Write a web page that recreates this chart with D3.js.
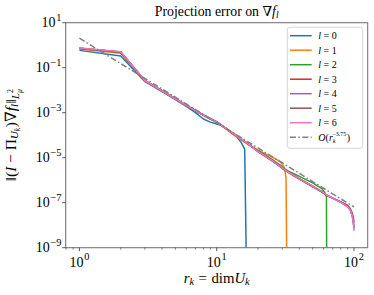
<!DOCTYPE html>
<html>
<head>
<meta charset="utf-8">
<script src="https://cdn.jsdelivr.net/npm/d3@7"></script>
<style>
  body { margin: 0; background: #fff; }
  svg { display: block; }
  text { font-family: "Liberation Serif", "DejaVu Serif", serif; fill: #000; }
</style>
</head>
<body>
<svg></svg>
<script>
const size = { w: 374, h: 295 };
const plot = { l: 65.7, r: 367.7, t: 22.7, b: 247.7 };

// r_k = dim U_k where the curves were read
const rk = [1, 2, 3, 4, 5, 6, 7, 8, 9, 10,
  11, 12, 13, 14, 15, 16, 17, 20, 25, 29,
  31, 32, 33, 35, 40, 50, 58, 61, 63, 64,
  70, 80, 90, 94, 97, 99, 100];

// log10 of the projection error for each l (null = no point)
const err0 = [-0.23, -0.48, -1.62, -2.06, -2.42, -2.72, -3.00, -3.28, -3.42, -3.50,
  -3.58, -3.74, -3.92, -4.08, -4.30, -4.62, -16, null, null, null,
  null, null, null, null, null, null, null, null, null, null,
  null, null, null, null, null, null, null];
const err1 = [-0.17, -0.36, -1.58, -2.03, -2.38, -2.67, -2.91, -3.12, -3.28, -3.43,
  -3.61, -3.78, -3.94, -4.07, -4.20, -4.32, -4.42, -4.66, -4.95, -5.17,
  -5.42, -5.90, -16, null, null, null, null, null, null, null,
  null, null, null, null, null, null, null];
const err2 = [-0.15, -0.32, -1.58, -2.03, -2.38, -2.67, -2.91, -3.11, -3.27, -3.41,
  -3.59, -3.75, -3.90, -4.03, -4.16, -4.28, -4.39, -4.68, -5.05, -5.33,
  -5.48, -5.53, -5.58, -5.66, -5.83, -6.12, -6.36, -6.52, -6.72, -16,
  null, null, null, null, null, null, null];
const err3 = [-0.14, -0.31, -1.58, -2.03, -2.38, -2.67, -2.91, -3.11, -3.27, -3.41,
  -3.59, -3.75, -3.90, -4.03, -4.16, -4.28, -4.40, -4.73, -5.12, -5.40,
  -5.54, -5.59, -5.64, -5.74, -5.95, -6.29, -6.52, -6.61, -6.66, -6.69,
  -6.80, -6.95, -7.12, -7.27, -7.45, -7.68, -7.88];
const err4 = [-0.13, -0.30, -1.58, -2.03, -2.38, -2.67, -2.91, -3.11, -3.27, -3.41,
  -3.59, -3.75, -3.90, -4.03, -4.16, -4.28, -4.40, -4.72, -5.10, -5.38,
  -5.52, -5.57, -5.62, -5.72, -5.93, -6.27, -6.50, -6.60, -6.65, -6.68,
  -6.80, -6.97, -7.17, -7.31, -7.54, -7.85, -8.12];
const err5 = [-0.13, -0.30, -1.58, -2.03, -2.38, -2.67, -2.91, -3.11, -3.27, -3.41,
  -3.59, -3.75, -3.90, -4.03, -4.16, -4.28, -4.40, -4.72, -5.10, -5.38,
  -5.52, -5.57, -5.62, -5.72, -5.93, -6.27, -6.50, -6.60, -6.65, -6.68,
  -6.80, -6.97, -7.18, -7.32, -7.56, -7.88, -8.18];
const err6 = [-0.12, -0.29, -1.58, -2.03, -2.38, -2.67, -2.91, -3.11, -3.27, -3.41,
  -3.59, -3.75, -3.90, -4.03, -4.16, -4.28, -4.40, -4.72, -5.10, -5.38,
  -5.52, -5.57, -5.62, -5.72, -5.93, -6.27, -6.50, -6.60, -6.65, -6.68,
  -6.80, -6.97, -7.18, -7.32, -7.58, -7.90, -8.25];

const lvals = [0, 1, 2, 3, 4, 5, 6];
const errs = [err0, err1, err2, err3, err4, err5, err6];

// reference slope O(r_k^-3.75), end points (log10 of error)
const refR = [1, 100];
const refErr = [0.31, -7.19];

const xTicks = [1, 10, 100];
const yExps = [1, -1, -3, -5, -7, -9];

const colors = ["#1f77b4", "#ff7f0e", "#2ca02c", "#d62728", "#9467bd", "#8c564b", "#e377c2"];

const svg = d3.select("svg").attr("width", size.w).attr("height", size.h);

const x = d3.scaleLog().domain([Math.pow(10, -0.1), Math.pow(10, 2.1)]).range([plot.l, plot.r]);
const y = d3.scaleLog().domain([1e-9, 10]).range([plot.b, plot.t]);

// helper for little bits of math text: parts = [text, {i, s, up, dx}]
function rich(sel, base, parts) {
  let cur = 0;
  parts.forEach(([t, o = {}]) => {
    const target = -(o.up || 0) * base;
    const ts = sel.append("tspan")
      .attr("dy", target - cur)
      .style("font-size", base * (o.s || 1) + "px")
      .text(t);
    if (o.i) ts.style("font-style", "italic");
    if (o.dx) ts.attr("dx", o.dx);
    cur = target;
  });
  return sel;
}

svg.append("defs").append("clipPath").attr("id", "clip")
  .append("rect")
  .attr("x", plot.l).attr("y", plot.t)
  .attr("width", plot.r - plot.l).attr("height", plot.b - plot.t);

// --------- LINES ----------
const linesG = svg.append("g").attr("clip-path", "url(#clip)");
const line = d3.line()
  .defined((d) => d[1] != null)
  .x((d) => x(d[0]))
  .y((d) => y(Math.pow(10, d[1])));

errs.forEach((e, i) => {
  linesG.append("path")
    .attr("d", line(rk.map((r, j) => [r, e[j]])))
    .attr("fill", "none")
    .attr("stroke", colors[i])
    .attr("stroke-width", 1.5)
    .attr("stroke-linejoin", "round");
});

linesG.append("path")
  .attr("d", line(refR.map((r, j) => [r, refErr[j]])))
  .attr("fill", "none")
  .attr("stroke", "gray")
  .attr("stroke-width", 1.5)
  .attr("stroke-dasharray", "6,2.4,1.5,2.4");

// --------- AXES ----------
const axG = svg.append("g");
axG.append("rect")
  .attr("x", plot.l).attr("y", plot.t)
  .attr("width", plot.r - plot.l).attr("height", plot.b - plot.t)
  .attr("fill", "none").attr("stroke", "#777").attr("stroke-width", 1.1);

// x ticks
const xMinor = [];
[0.1, 1, 10, 100].forEach((dec) => {
  for (let k = 2; k <= 9; k++) {
    const v = dec * k;
    if (v > x.domain()[0] && v < x.domain()[1]) xMinor.push(v);
  }
});
xMinor.forEach((v) => {
  axG.append("line")
    .attr("x1", x(v)).attr("x2", x(v))
    .attr("y1", plot.b).attr("y2", plot.b + 2)
    .attr("stroke", "#333").attr("stroke-width", 0.6);
});
xTicks.forEach((v) => {
  axG.append("line")
    .attr("x1", x(v)).attr("x2", x(v))
    .attr("y1", plot.b).attr("y2", plot.b + 3.5)
    .attr("stroke", "#333").attr("stroke-width", 0.8);
  const t = axG.append("text")
    .attr("x", x(v)).attr("y", 266.5)
    .attr("text-anchor", "middle");
  rich(t, 14, [["10"], [String(Math.round(Math.log10(v))), { s: 0.74, up: 0.45, dx: 0.6 }]]);
});

// y ticks
yExps.forEach((e) => {
  const yy = y(Math.pow(10, e));
  axG.append("line")
    .attr("x1", plot.l - 3.5).attr("x2", plot.l)
    .attr("y1", yy).attr("y2", yy)
    .attr("stroke", "#333").attr("stroke-width", 0.8);
  const t = axG.append("text")
    .attr("x", 61.5).attr("y", yy + 4.7)
    .attr("text-anchor", "end");
  rich(t, 14, [["10"], [(e < 0 ? "\u2212" : "") + Math.abs(e), { s: 0.74, up: 0.45, dx: 0.8 }]]);
});

// --------- TEXT ----------
const title = svg.append("text")
  .attr("x", (plot.l + plot.r) / 2).attr("y", 16)
  .attr("text-anchor", "middle");
rich(title, 13.8, [["Projection error on \u2207"], ["f", { i: true }], ["l", { i: true, s: 0.7, up: -0.15 }]]);

const xlab = svg.append("text")
  .attr("x", (plot.l + plot.r) / 2).attr("y", 282.5)
  .attr("text-anchor", "middle");
rich(xlab, 14.8, [["r", { i: true }], ["k", { i: true, s: 0.7, up: -0.15 }],
  ["=", { dx: 4.5 }], ["dim", { dx: 4.5 }], ["U", { i: true }], ["k", { i: true, s: 0.7, up: -0.15 }]]);

const ylab = svg.append("text")
  .attr("transform", `translate(15.5,${(plot.t + plot.b) / 2}) rotate(-90)`)
  .attr("text-anchor", "middle");
rich(ylab, 15.5, [["\u2016(", {}], ["I", { i: true }], [" \u2212 \u03a0"],
  ["U", { i: true, s: 0.7, up: -0.15 }], ["k", { i: true, s: 0.5, up: -0.3 }],
  [")\u2207", { dx: 0.5 }], ["f", { i: true }], ["l", { i: true, s: 0.7, up: -0.15 }],
  ["\u2016", { dx: 0.5 }], ["L", { i: true, s: 0.7, up: -0.25 }], ["2", { s: 0.5, up: 0.15 }],
  ["\u03bc", { i: true, s: 0.5, up: -0.45, dx: -3.8 }]]);

// --------- LEGEND ----------
const lg = svg.append("g");
lg.append("rect")
  .attr("x", 287.3).attr("y", 27.3)
  .attr("width", 75.4).attr("height", 121)
  .attr("rx", 2.5)
  .attr("fill", "#fff").attr("fill-opacity", 0.8)
  .attr("stroke", "#ccc").attr("stroke-width", 0.8);

const rowY = (i) => 35.7 + i * 14.5;
lvals.forEach((l, i) => {
  lg.append("line")
    .attr("x1", 290).attr("x2", 311.7)
    .attr("y1", rowY(i)).attr("y2", rowY(i))
    .attr("stroke", colors[i]).attr("stroke-width", 1.5);
  const t = lg.append("text").attr("x", 318.3).attr("y", rowY(i) + 3.3);
  rich(t, 10, [["l", { i: true }], ["=", { dx: 2.5 }], [String(l), { dx: 2.5 }]]);
});
const ri = lvals.length;
lg.append("line")
  .attr("x1", 290).attr("x2", 311.7)
  .attr("y1", rowY(ri)).attr("y2", rowY(ri))
  .attr("stroke", "gray").attr("stroke-width", 1.5)
  .attr("stroke-dasharray", "6,2.4,1.5,2.4");
const ot = lg.append("text").attr("x", 318.3).attr("y", rowY(ri) + 3.3);
rich(ot, 10, [["O", { i: true }], ["("], ["r", { i: true }],
  ["k", { i: true, s: 0.6, up: -0.25 }],
  ["\u22123.75", { s: 0.6, up: 0.5, dx: -3 }],
  [")", { dx: 0.5 }]]);
</script>
</body>
</html>
